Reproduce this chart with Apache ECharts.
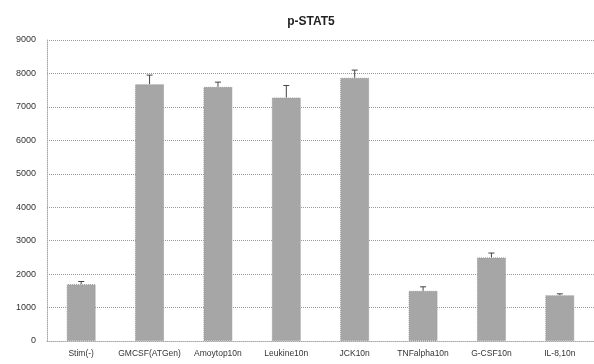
<!DOCTYPE html>
<html>
<head>
<meta charset="utf-8">
<script src="https://cdn.jsdelivr.net/npm/echarts@6/dist/echarts.min.js"></script>
<style>html,body{margin:0;padding:0;background:#fff;}#c{width:594px;height:364px;}</style>
</head>
<body>
<div id="c"></div>
<script>
const categories = ['Stim(-)', 'GMCSF(ATGen)', 'Amoytop10n', 'Leukine10n', 'JCK10n', 'TNFalpha10n', 'G-CSF10n', 'IL-8,10n'];
const values = [1700, 7680, 7600, 7280, 7870, 1500, 2500, 1370];
const errorTops = [1780, 7950, 7740, 7640, 8100, 1620, 2630, 1410];
const yTicks = [0, 1000, 2000, 3000, 4000, 5000, 6000, 7000, 8000, 9000];

const chart = echarts.init(document.getElementById('c'));
chart.setOption({
  animation: false,
  backgroundColor: '#fff',
  title: {
    text: 'p-STAT5', left: 306, top: 11, textAlign: 'center',
    textStyle: { fontSize: 12, fontWeight: 'bold', color: '#222', fontFamily: 'Liberation Sans' }
  },
  grid: { left: 47, right: 0, top: 40, bottom: 23 },
  xAxis: {
    type: 'category', data: categories,
    axisLine: { lineStyle: { color: '#aaa', type: 'dotted' } },
    axisTick: { show: false },
    axisLabel: { fontSize: 8.5, color: '#333', margin: 8, fontFamily: 'Liberation Sans', interval: 0 }
  },
  yAxis: {
    type: 'value', min: yTicks[0], max: yTicks[yTicks.length - 1], interval: 1000,
    axisLine: { show: true, lineStyle: { color: '#aaa', type: 'dotted' } },
    axisTick: { show: false },
    axisLabel: { fontSize: 9, color: '#333', margin: 11, fontFamily: 'Liberation Sans', formatter: v => String(v) },
    splitLine: { lineStyle: { color: '#999', type: 'dotted' } }
  },
  series: [
    {
      type: 'bar', data: values, barWidth: 29,
      itemStyle: { color: '#a6a6a6', borderColor: '#999', borderWidth: 1, borderType: 'dotted' }
    },
    {
      type: 'custom',
      data: values.map((v, i) => [i, v, errorTops[i]]),
      renderItem: function (params, api) {
        const base = api.coord([api.value(0), api.value(1)]);
        const top = api.coord([api.value(0), api.value(2)]);
        return {
          type: 'group',
          children: [
            { type: 'line', shape: { x1: base[0], y1: base[1], x2: top[0], y2: top[1] }, style: { stroke: '#444', lineWidth: 1 } },
            { type: 'line', shape: { x1: top[0] - 3, y1: top[1], x2: top[0] + 3, y2: top[1] }, style: { stroke: '#444', lineWidth: 1 } }
          ]
        };
      },
      z: 5
    }
  ]
});
</script>
</body>
</html>
